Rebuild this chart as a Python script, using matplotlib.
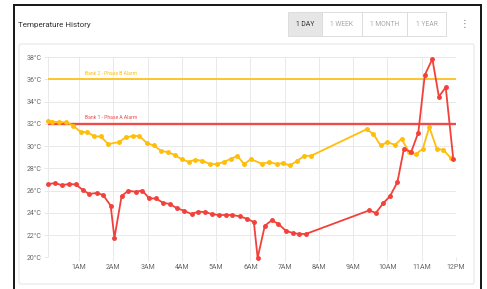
import matplotlib
matplotlib.use("Agg")
import matplotlib.pyplot as plt
from matplotlib.patches import Rectangle, FancyBboxPatch

# ---------------- data ----------------
bank2_hours = [0.10, 0.21, 0.42, 0.62, 0.83, 1.04, 1.24, 1.44, 1.63, 1.85,
               2.16, 2.36, 2.57, 2.76, 2.98, 3.18, 3.39, 3.59, 3.80, 4.00,
               4.20, 4.39, 4.60, 4.82, 5.01, 5.23, 5.42, 5.62, 5.82, 6.01,
               6.34, 6.55, 6.77, 6.96, 7.15, 7.37, 7.57, 7.77,
               9.39, 9.59, 9.80, 10.00, 10.22, 10.41, 10.63, 10.83, 11.03,
               11.22, 11.44, 11.63, 11.85]
bank2_temps = [32.29, 32.2, 32.14, 32.14, 31.84, 31.26, 31.26, 30.86, 30.86, 30.17,
               30.36, 30.78, 30.9, 30.9, 30.26, 30.05, 29.57, 29.45, 29.18, 28.79,
               28.58, 28.77, 28.67, 28.38, 28.38, 28.56, 28.85, 29.09, 28.38, 28.82,
               28.4, 28.56, 28.38, 28.47, 28.26, 28.67, 29.12, 29.12,
               31.51, 31.07, 30.05, 30.35, 30.1, 30.65, 29.45, 29.27, 29.75,
               31.7, 29.75, 29.66, 28.91]

bank1_hours = [0.10, 0.29, 0.49, 0.70, 0.90, 1.10, 1.29, 1.51, 1.70, 1.92,
               2.03, 2.24, 2.43, 2.65, 2.84, 3.05, 3.24, 3.45, 3.65, 3.86,
               4.05, 4.28, 4.48, 4.67, 4.87, 5.08, 5.28, 5.47, 5.69, 5.89,
               6.10, 6.21, 6.42, 6.62, 6.81, 7.03, 7.23, 7.42, 7.62,
               9.47, 9.66, 9.88, 10.07, 10.29, 10.48, 10.69, 10.90, 11.09,
               11.31, 11.50, 11.70, 11.92]
bank1_temps = [26.58, 26.67, 26.49, 26.58, 26.55, 26.07, 25.69, 25.78, 25.6, 24.64,
               21.74, 25.5, 25.98, 25.89, 26.0, 25.29, 25.29, 24.9, 24.79, 24.4,
               24.2, 23.89, 24.1, 24.07, 23.89, 23.8, 23.8, 23.8, 23.68, 23.47,
               23.17, 19.95, 22.84, 23.32, 23.02, 22.39, 22.19, 22.1, 22.1,
               24.22, 23.98, 24.88, 25.47, 26.76, 29.75, 29.45, 31.21, 36.39,
               37.82, 34.44, 35.28, 28.85]

alarm_labels = ["Bank 2 - Phase B Alarm", "Bank 1 - Phase A Alarm"]
alarm_values = [36, 32]

x_tick_hours = [1, 2, 3, 4, 5, 6, 7, 8, 9, 10, 11, 12]
x_tick_labels = ["1AM", "2AM", "3AM", "4AM", "5AM", "6AM", "7AM", "8AM",
                 "9AM", "10AM", "11AM", "12PM"]
y_ticks = [20, 22, 24, 26, 28, 30, 32, 34, 36, 38]

title = "Temperature History"
range_buttons = ["1 DAY", "1 WEEK", "1 MONTH", "1 YEAR"]

# ---------------- style ----------------
YELLOW = "#FFBE0B"
RED = "#F2413A"
ALARM_RED = "#EF4B4B"
GRID = "#E9E9E9"
TXT = "#666666"

plt.rcParams['font.family'] = ['Roboto', 'DejaVu Sans']

W, H = 487, 289
fig = plt.figure(figsize=(W / 100, H / 100), dpi=100)
fig.patch.set_facecolor("white")

# overlay in pixel coordinates for the card / frame decorations
ov = fig.add_axes([0, 0, 1, 1], zorder=0)
ov.set_xlim(0, W)
ov.set_ylim(H, 0)
ov.axis("off")
ov.patch.set_alpha(0)

# dark outer border (screen frame)
ov.add_patch(Rectangle((12.5, 4), 2.5, H, color="#1a1a1a", lw=0))
ov.add_patch(Rectangle((479.5, 4), 2.5, H, color="#1a1a1a", lw=0))
ov.add_patch(Rectangle((12.5, 4), 469.5, 2, color="#1a1a1a", lw=0))

# inner chart card
ov.add_patch(FancyBboxPatch((19, 44), 455, 240, boxstyle="round,pad=0,rounding_size=2",
                            fc="white", ec="#E6E6E6", lw=0.8))

# title
ov.text(18, 25, title, fontsize=5.8, color="#333333", va="center", ha="left")

# range buttons
edges = [288, 322, 362, 407, 446]
for i, lab in enumerate(range_buttons):
    x0, x1 = edges[i], edges[i + 1]
    fc = "#E6E6E6" if i == 0 else "white"
    ov.add_patch(Rectangle((x0, 12), x1 - x0, 24, fc=fc, ec="#DDDDDD", lw=0.7))
    ov.text((x0 + x1) / 2, 24.3, lab, fontsize=4.9,
            color="#333333" if i == 0 else "#A8A8A8", ha="center", va="center")

# kebab menu
ov.text(464, 24, "⋮", fontsize=7, color="#777777", ha="center", va="center",
        family=['DejaVu Sans'])

# ---------------- chart ----------------
left, right, top, bottom = 48.3, 456, 57, 257.3
ax = fig.add_axes([left / W, (H - bottom) / H, (right - left) / W, (bottom - top) / H],
                  zorder=2)
ax.patch.set_alpha(0)

for val, lab, col, lw in zip(alarm_values, alarm_labels, [YELLOW, ALARM_RED], [1.2, 1.7]):
    ax.axhline(val, color=col, lw=lw, zorder=2)
    ax.text(1.17, val + 0.3, lab, fontsize=3.6, color=col, ha="left", va="bottom")

ax.plot(bank2_hours, bank2_temps, color=YELLOW, lw=1.3, marker="o", ms=2.5,
        mec=YELLOW, zorder=3, clip_on=False)
ax.plot(bank1_hours, bank1_temps, color=RED, lw=1.3, marker="o", ms=2.5,
        mec=RED, zorder=4, clip_on=False)

ax.set_xlim(bank1_hours[0], 12)
ax.set_ylim(20, 38)
ax.set_xticks(x_tick_hours)
ax.set_xticklabels(x_tick_labels)
ax.set_yticks(y_ticks)
ax.set_yticklabels([f"{v}°C" for v in y_ticks])
ax.grid(True, color=GRID, lw=0.7, zorder=0)
ax.set_axisbelow(True)
for s in ax.spines.values():
    s.set_visible(False)
ax.tick_params(axis="both", length=3, width=0.7, color=GRID, labelsize=5.0,
               labelcolor=TXT, pad=1.5)
# left boundary grid line
ax.axvline(bank1_hours[0], color=GRID, lw=0.7, zorder=0)

fig.savefig("out.png", dpi=100, facecolor="white")
